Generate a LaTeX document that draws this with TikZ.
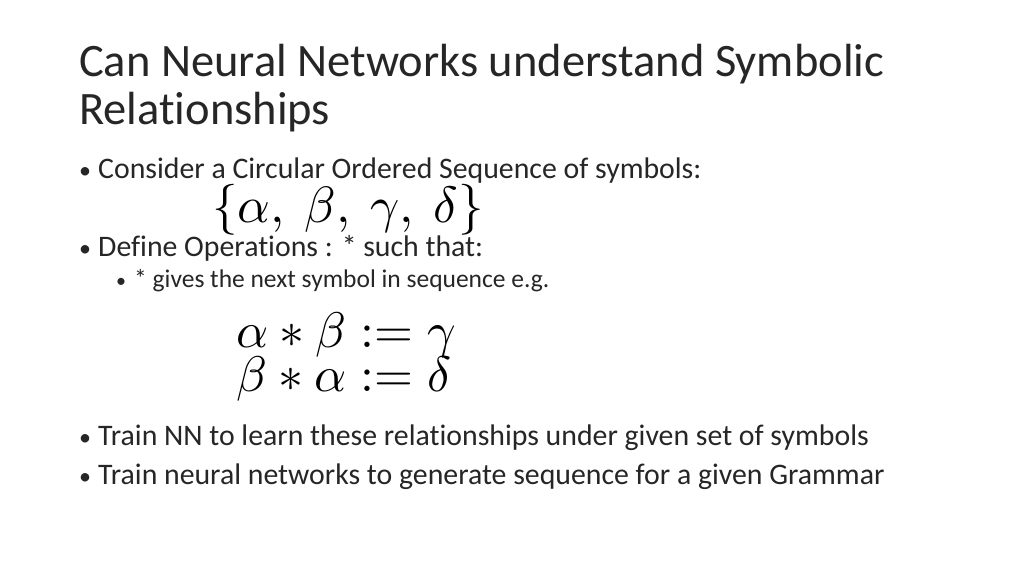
\documentclass[tikz,border=0pt]{standalone}
\usepackage{fontspec}
\setmainfont[Ligatures=NoCommon,Contextuals=NoAlternate]{Carlito}
\begin{document}
\begin{tikzpicture}[x=1pt,y=-1pt,
  txt/.style={anchor=base west,inner sep=0pt,text=black!85},
  title/.style={txt,font=\fontsize{46.5}{55}\selectfont},
  bl/.style={txt,font=\fontsize{29.8}{35}\selectfont},
  dot/.style={txt,font=\fontsize{24}{28}\selectfont},
  sbl/.style={txt,font=\fontsize{25.5}{30}\selectfont},
  mth/.style={anchor=base west,inner sep=0pt,font=\fontsize{10}{12}\selectfont}]
\useasboundingbox[fill=white] (0,0) rectangle (1024,576);
\node[title] (t1) at (79,76) {Can Neural Networks understand Symbolic};
\node[title] (t2) at (79,124) {Relationships};
\node[dot] (b1d) at (79,178) {•};
\node[bl] (b1) at (98,178) {Consider a Circular Ordered Sequence of symbols:};
\node[mth] (set) at (212,222) {\scalebox{5.1}{$\{\alpha,\ \beta,\ \gamma,\ \delta\}$}};
\node[dot] (b2d) at (79,256) {•};
\node[bl] (b2) at (98,256) {Define Operations : * such that:};
\node[dot,font=\fontsize{20}{24}\selectfont] (s1d) at (116,287) {•};
\node[sbl] (s1) at (134,287) {* gives the next symbol in sequence e.g.};
\node[mth] (m1) at (236,347) {\scalebox{5}{$\alpha*\beta:=\gamma$}};
\node[mth] (m2) at (236,391) {\scalebox{5}{$\beta*\alpha:=\delta$}};
\node[dot] (b3d) at (79,445) {•};
\node[bl] (b3) at (98,445) {Train NN to learn these relationships under given set of symbols};
\node[dot] (b4d) at (79,484) {•};
\node[bl] (b4) at (98,484) {Train neural networks to generate sequence for a given Grammar};
\end{tikzpicture}
\end{document}
